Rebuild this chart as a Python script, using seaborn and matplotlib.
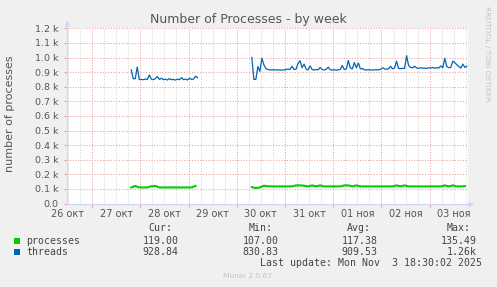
import numpy as np
import pandas as pd
import matplotlib
matplotlib.use("Agg")
import matplotlib.pyplot as plt
from matplotlib.patches import Rectangle
from matplotlib.ticker import FuncFormatter, FixedLocator
import seaborn as sns

# ---------------- data (hours since 26 Oct 00:00) ----------------
day_labels = ["26 окт", "27 окт", "28 окт", "29 окт", "30 окт",
              "31 окт", "01 ноя", "02 ноя", "03 ноя"]

threads_seg1_start = 43.5   # hourly samples
threads_seg1 = [915, 855, 855, 935, 848, 850, 848, 852, 850, 880,
                852, 848, 855, 870, 850, 858, 848, 852, 846, 855,
                848, 850, 845, 852, 848, 862, 848, 852, 846, 858,
                850, 852, 872, 862]
threads_seg2_start = 103.5
threads_seg2 = [1000, 850, 850, 938, 905, 995, 950, 925, 918, 915,
                915, 916, 914, 916, 913, 915, 914, 918, 920, 918,
                940, 918, 920, 960, 978, 930, 955, 920, 915, 942,
                918, 914, 918, 915, 932, 918, 914, 920, 934, 916,
                914, 916, 913, 916, 918, 945, 918, 922, 980, 928,
                922, 965, 930, 962, 922, 925, 916, 914, 916, 915,
                914, 916, 915, 916, 918, 930, 922, 920, 922, 940,
                922, 928, 975, 925, 924, 926, 925, 1012, 945, 932,
                930, 940, 928, 926, 930, 926, 928, 925, 930, 927,
                932, 926, 930, 928, 942, 930, 995, 938, 930, 932,
                975, 965, 950, 938, 928, 955, 932, 940]

proc_seg1_start = 43.5      # 2-hourly samples
proc_seg1 = [110, 120, 110, 110, 110, 118, 120, 110, 110, 110,
             110, 110, 110, 110, 110, 110, 120]
proc_seg2_start = 103.5
proc_seg2 = [112, 106, 110, 122, 118, 117, 117, 117, 117, 117,
             117, 124, 124, 122, 117, 124, 117, 124, 117, 117,
             117, 117, 117, 124, 124, 117, 124, 117, 117, 117,
             117, 117, 117, 117, 117, 117, 124, 117, 124, 117,
             117, 117, 117, 117, 117, 117, 117, 117, 124, 117,
             124, 117, 117, 119]

legend_names = ["processes", "threads"]
legend_cur = ["119.00", "928.84"]
legend_min = ["107.00", "830.83"]
legend_avg = ["117.38", "909.53"]
legend_max = ["135.49", "1.26k"]
colors = ["#00cc00", "#0066b3"]

title = "Number of Processes - by week"
ylabel = "number of processes"
last_update = "Last update: Mon Nov  3 18:30:02 2025"
version = "Munin 2.0.67"
side_text = "RRDTOOL / TOBI OETIKER"

# ---------------- figure ----------------
W, H = 497, 287
def fx(px): return px / W
def fy(py): return 1 - py / H

fig = plt.figure(figsize=(W / 100, H / 100), dpi=100, facecolor="#f0f0f0")
ax = fig.add_axes([fx(67), fy(203.5), (467.5 - 67) / W, (203.5 - 28.3) / H])
ax.set_facecolor("white")

def series_df(start, step, vals):
    hours = start + step * np.arange(len(vals))
    return pd.DataFrame({"hour": hours, "value": vals})

for start, step, vals, col, lw in [
        (proc_seg1_start, 2.0, proc_seg1, colors[0], 1.5),
        (proc_seg2_start, 2.0, proc_seg2, colors[0], 1.5),
        (threads_seg1_start, 1.0, threads_seg1, colors[1], 0.9),
        (threads_seg2_start, 1.0, threads_seg2, colors[1], 0.9)]:
    sns.lineplot(data=series_df(start, step, vals), x="hour", y="value",
                 ax=ax, color=col, linewidth=lw, estimator=None, zorder=3)

ax.set_xlim(11.55, 210.8)
ax.set_ylim(0, 1200)
ax.set_xlabel("")
ax.set_ylabel("")

# ticks & grid
axis_col = "#cfd6f8"
red_grid = "#eaa0a0"
grey_grid = "#d4d4d4"
ax.xaxis.set_major_locator(FixedLocator([24 * k for k in range(1, 9)]))
ax.xaxis.set_minor_locator(FixedLocator([6 * k for k in range(2, 36)]))
ax.xaxis.set_major_formatter(FuncFormatter(lambda v, p: ""))
def minor_fmt(v, p):
    if abs(((v - 12) % 24)) < 1e-6:
        i = int(round((v - 12) / 24))
        if 0 <= i < len(day_labels):
            return day_labels[i]
    return ""
ax.xaxis.set_minor_formatter(FuncFormatter(minor_fmt))
yt = np.arange(0, 1201, 100)
ax.set_yticks(yt)
ax.set_yticklabels(["0.0" if v == 0 else f"{v/1000:.1f} k" for v in yt])

ax.grid(True, which="major", axis="both", color=red_grid, linewidth=0.75,
        linestyle=(0, (1, 1.6)))
ax.grid(True, which="minor", axis="x", color=grey_grid, linewidth=0.75,
        linestyle=(0, (1, 1.6)))
ax.set_axisbelow(True)

ax.tick_params(axis="x", which="major", length=2, color=red_grid, labelsize=7)
ax.tick_params(axis="x", which="minor", length=0, pad=4.2, labelsize=7,
               labelcolor="#555555")
ax.tick_params(axis="y", which="major", length=2, color=red_grid, pad=4,
               labelsize=6.8, labelcolor="#555555")

for s in ["top", "right"]:
    ax.spines[s].set_visible(False)
for s in ["left", "bottom"]:
    ax.spines[s].set_color(axis_col)
    ax.spines[s].set_linewidth(0.8)
    ax.spines[s].set_zorder(4)

# axis arrows
ax.plot([0, 0], [1, 1.025], transform=ax.transAxes, color=axis_col,
        lw=0.8, clip_on=False)
ax.plot([0], [1.03], transform=ax.transAxes, marker="^", ms=4.5,
        color=axis_col, clip_on=False, mec="none")
ax.plot([1, 1.006], [0, 0], transform=ax.transAxes, color=axis_col,
        lw=0.8, clip_on=False)
ax.plot([1.009], [0], transform=ax.transAxes, marker=">", ms=4.5,
        color=axis_col, clip_on=False, mec="none")

# texts
fig.text(fx(248.5), fy(19.5), title, ha="center", va="center",
         fontsize=9, color="#555555")
fig.text(fx(10), fy(114), ylabel, rotation=90, ha="center", va="center",
         fontsize=8, color="#555555")
fig.text(fx(486.7), fy(53.5), side_text, rotation=270, ha="center",
         va="center", fontsize=5.4, color="#c4c4c4")

mono = "DejaVu Sans Mono"
fs = 7.15
tc = "#444444"
for cx, hdr in [(160.5, "Cur:"), (260.5, "Min:"), (359.0, "Avg:"), (458.5, "Max:")]:
    fig.text(fx(cx), fy(228), hdr, ha="center", va="center",
             family=mono, fontsize=fs, color=tc)
rows_y = [240.7, 252.0]
for i, ry in enumerate(rows_y):
    fig.patches.append(Rectangle((fx(14), fy(ry + 3)), 6 / W, 6 / H,
                                 transform=fig.transFigure,
                                 facecolor=colors[i], edgecolor="none"))
    fig.text(fx(26), fy(ry), legend_names[i], ha="left", va="center",
             family=mono, fontsize=fs, color=tc)
    for rx, col in [(178.3, legend_cur), (278.3, legend_min),
                    (377.7, legend_avg), (476.9, legend_max)]:
        fig.text(fx(rx), fy(ry), col[i], ha="right", va="center",
                 family=mono, fontsize=fs, color=tc)
fig.text(fx(482.3), fy(263.5), last_update, ha="right", va="center",
         family=mono, fontsize=fs, color=tc)
fig.text(fx(247.5), fy(276.5), version, ha="center", va="center",
         fontsize=5.4, color="#c4c4c4")

fig.savefig("out.png", dpi=100, facecolor=fig.get_facecolor())
